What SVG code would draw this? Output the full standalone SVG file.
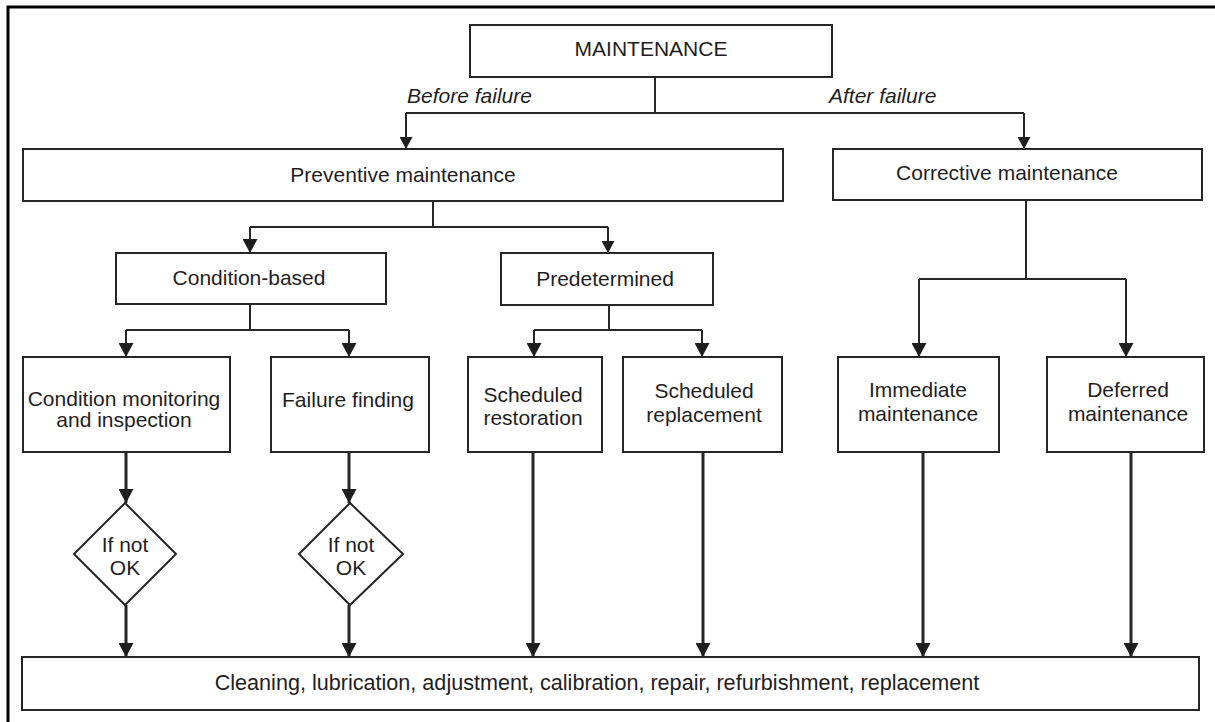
<svg xmlns="http://www.w3.org/2000/svg" width="1215" height="722" viewBox="0 0 1215 722">
  <style>
    .box { fill: #fff; stroke: #262626; stroke-width: 2; }
    .lbl { font-family: "Liberation Sans", Arial, sans-serif; font-size: 21px; fill: #1e1e1e; text-anchor: middle; }
    .it { font-style: italic; text-anchor: start; }
    .ln { fill: none; stroke: #262626; stroke-width: 2; }
    .arr { marker-end: url(#head); }
    .thick { stroke-width: 3; }
  </style>
  <defs>
    <marker id="head" markerUnits="userSpaceOnUse" markerWidth="15" markerHeight="15" refX="14" refY="7.5" orient="auto">
      <path d="M0,0 L14,7.5 L0,15 z" fill="#1e1e1e"/>
    </marker>
    <marker id="headSm" markerUnits="userSpaceOnUse" markerWidth="13" markerHeight="13" refX="12" refY="6.5" orient="auto">
      <path d="M0,0 L12,6.5 L0,13 z" fill="#1e1e1e"/>
    </marker>
  </defs>

  <rect width="1215" height="722" fill="#fff"/>
  <!-- page frame (top and left edges) -->
  <path d="M8,722 V7 H1215" fill="none" stroke="#000" stroke-width="3"/>

  <g id="connectors">
    <path class="ln" d="M655,77 V113 M406,113 H1024"/>
    <path class="ln" d="M406,113 V149" marker-end="url(#headSm)"/>
    <path class="ln" d="M1024,113 V149" marker-end="url(#headSm)"/>

    <path class="ln" d="M433,201 V227 M250,227 H608"/>
    <path class="ln arr" d="M250,227 V253"/>
    <path class="ln" d="M608,227 V253" marker-end="url(#headSm)"/>

    <path class="ln" d="M250,304 V330 M126,330 H349"/>
    <path class="ln arr" d="M126,330 V357"/>
    <path class="ln arr" d="M349,330 V357"/>

    <path class="ln" d="M609,305 V330 M534,330 H702"/>
    <path class="ln arr" d="M534,330 V357"/>
    <path class="ln arr" d="M702,330 V357"/>

    <path class="ln" d="M1026,200 V279 M919,279 H1126"/>
    <path class="ln arr" d="M919,279 V357"/>
    <path class="ln arr" d="M1126,279 V357"/>

    <path class="ln thick arr" d="M126,452 V503"/>
    <path class="ln thick arr" d="M126,605 V657"/>
    <path class="ln thick arr" d="M349,452 V503"/>
    <path class="ln thick arr" d="M349,605 V657"/>
    <path class="ln thick arr" d="M533,452 V657"/>
    <path class="ln thick arr" d="M703,452 V657"/>
    <path class="ln thick arr" d="M923,452 V657"/>
    <path class="ln thick arr" d="M1131,452 V657"/>
  </g>

  <g id="edge-labels">
    <text class="lbl it" x="407" y="103">Before failure</text>
    <text class="lbl it" x="829" y="103">After failure</text>
  </g>

  <g id="maintenance">
    <rect class="box" x="470" y="25" width="362" height="52"/>
    <text class="lbl" x="651" y="56">MAINTENANCE</text>
  </g>
  <g id="preventive">
    <rect class="box" x="23" y="149" width="760" height="52"/>
    <text class="lbl" x="403" y="182">Preventive maintenance</text>
  </g>
  <g id="corrective">
    <rect class="box" x="833" y="149" width="369" height="51"/>
    <text class="lbl" x="1007" y="180">Corrective maintenance</text>
  </g>
  <g id="condition-based">
    <rect class="box" x="116" y="253" width="270" height="51"/>
    <text class="lbl" x="249" y="285">Condition-based</text>
  </g>
  <g id="predetermined">
    <rect class="box" x="501" y="253" width="212" height="52"/>
    <text class="lbl" x="605" y="286">Predetermined</text>
  </g>
  <g id="condition-monitoring">
    <rect class="box" x="23" y="357" width="207" height="95"/>
    <text class="lbl" x="124" y="406">Condition monitoring</text>
    <text class="lbl" x="124" y="427">and inspection</text>
  </g>
  <g id="failure-finding">
    <rect class="box" x="271" y="357" width="158" height="95"/>
    <text class="lbl" x="348" y="407">Failure finding</text>
  </g>
  <g id="scheduled-restoration">
    <rect class="box" x="468" y="357" width="134" height="95"/>
    <text class="lbl" x="533" y="402">Scheduled</text>
    <text class="lbl" x="533" y="425">restoration</text>
  </g>
  <g id="scheduled-replacement">
    <rect class="box" x="623" y="357" width="159" height="95"/>
    <text class="lbl" x="704" y="398">Scheduled</text>
    <text class="lbl" x="704" y="422">replacement</text>
  </g>
  <g id="immediate">
    <rect class="box" x="838" y="357" width="161" height="95"/>
    <text class="lbl" x="918" y="397">Immediate</text>
    <text class="lbl" x="918" y="421">maintenance</text>
  </g>
  <g id="deferred">
    <rect class="box" x="1047" y="357" width="157" height="95"/>
    <text class="lbl" x="1128" y="397">Deferred</text>
    <text class="lbl" x="1128" y="421">maintenance</text>
  </g>
  <g id="check-1">
    <polygon class="box" points="125,503 176,554 125,605 74,554"/>
    <text class="lbl" x="125" y="552">If not</text>
    <text class="lbl" x="125" y="575">OK</text>
  </g>
  <g id="check-2">
    <polygon class="box" points="350,503 403,554 350,605 299,554"/>
    <text class="lbl" x="351" y="552">If not</text>
    <text class="lbl" x="351" y="575">OK</text>
  </g>
  <g id="actions">
    <rect class="box" x="22" y="657" width="1177" height="53"/>
    <text class="lbl" x="597" y="690" style="font-size:21.6px">Cleaning, lubrication, adjustment, calibration, repair, refurbishment, replacement</text>
  </g>
</svg>
